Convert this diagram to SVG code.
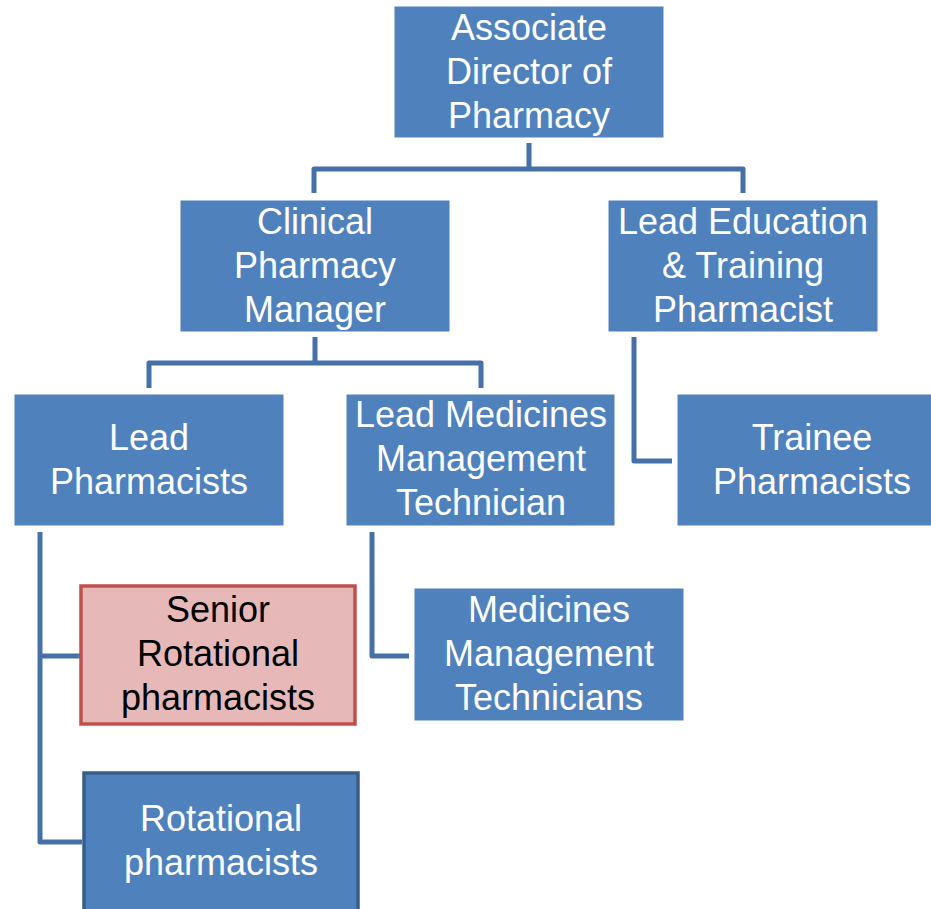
<svg xmlns="http://www.w3.org/2000/svg" width="931" height="909" viewBox="0 0 931 909">
<style>
.box{fill:#4F81BD;stroke:#4F81BD;stroke-width:1}
.t{font-family:"Liberation Sans",Arial,sans-serif;font-size:36px;fill:#ffffff;text-anchor:middle}
.tb{fill:#000000}
.c{fill:none;stroke:#4670A8;stroke-width:5;stroke-linejoin:round}
</style>
<rect width="931" height="909" fill="#ffffff"/>
<g id="connectors">
<path class="c" d="M529,143 V169 M314,193 V169 H743 V193"/>
<path class="c" d="M315,337 V363 M149,388 V363 H481 V388"/>
<path class="c" d="M634,337 V461 H672"/>
<path class="c" d="M40,532 V842 H82 M40,656 H80"/>
<path class="c" d="M372,532 V656 H409"/>
</g>
<g id="n1"><rect class="box" x="395" y="7" width="268" height="130"/>
<text class="t" x="529" y="40">Associate</text><text class="t" x="529" y="84">Director of</text><text class="t" x="529" y="128">Pharmacy</text></g>
<g id="n2"><rect class="box" x="181" y="201" width="268" height="130"/>
<text class="t" x="315" y="234">Clinical</text><text class="t" x="315" y="278">Pharmacy</text><text class="t" x="315" y="322">Manager</text></g>
<g id="n3"><rect class="box" x="609" y="201" width="268" height="130"/>
<text class="t" x="743" y="234">Lead Education</text><text class="t" x="743" y="278">&amp; Training</text><text class="t" x="743" y="322">Pharmacist</text></g>
<g id="n4"><rect class="box" x="15" y="395" width="268" height="130"/>
<text class="t" x="149" y="450">Lead</text><text class="t" x="149" y="494">Pharmacists</text></g>
<g id="n5"><rect class="box" x="347" y="395" width="267" height="130"/>
<text class="t" x="481" y="427">Lead Medicines</text><text class="t" x="481" y="471">Management</text><text class="t" x="481" y="515">Technician</text></g>
<g id="n6"><rect class="box" x="678" y="395" width="260" height="130"/>
<text class="t" x="812" y="450">Trainee</text><text class="t" x="812" y="494">Pharmacists</text></g>
<g id="n7"><rect x="81" y="586" width="274" height="138" fill="#E6B9B8" stroke="#C0504D" stroke-width="3.5"/>
<text class="t tb" x="218" y="622">Senior</text><text class="t tb" x="218" y="666">Rotational</text><text class="t tb" x="218" y="710">pharmacists</text></g>
<g id="n8"><rect class="box" x="415" y="589" width="268" height="131"/>
<text class="t" x="549" y="622">Medicines</text><text class="t" x="549" y="666">Management</text><text class="t" x="549" y="710">Technicians</text></g>
<g id="n9"><rect x="84" y="773" width="274" height="150" fill="#4F81BD" stroke="#385D8A" stroke-width="3.5"/>
<text class="t" x="221" y="831">Rotational</text><text class="t" x="221" y="875">pharmacists</text></g>
</svg>
